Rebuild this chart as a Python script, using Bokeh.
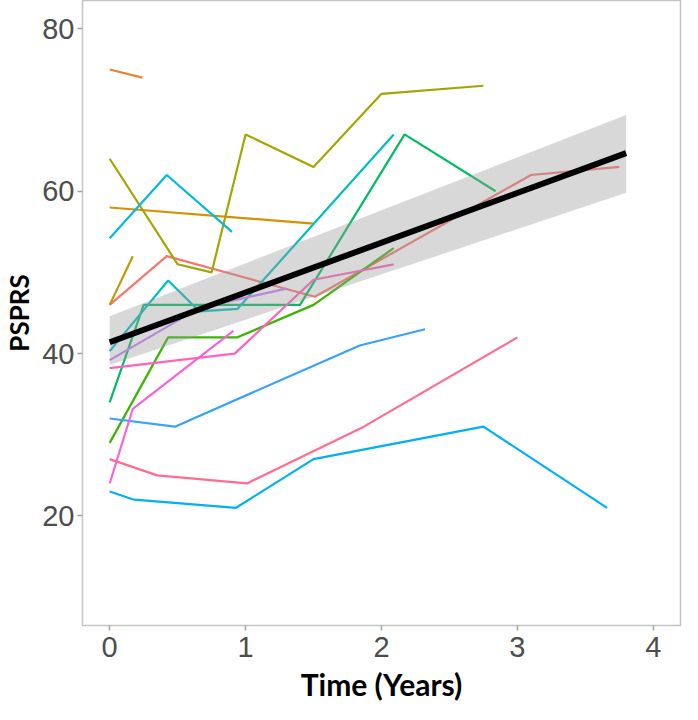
from bokeh.plotting import figure
from bokeh.models import Range1d, FixedTicker
from bokeh.embed import file_html
from bokeh.resources import INLINE

# ---- data ----
s01_x = [0, 0.42, 1.51, 3.1, 3.75];            s01_y = [46, 52, 47, 62, 63]
s02_x = [0, 0.24];                             s02_y = [75, 74]
s03_x = [0, 1.5];                              s03_y = [58, 56]
s04_x = [0, 0.17];                             s04_y = [46, 52]
s05_x = [0, 0.5, 0.75, 1.0, 1.5, 2.0, 2.75];   s05_y = [64, 51, 50, 67, 63, 72, 73]
s06_x = [0, 0.43, 0.94, 1.5, 2.09];            s06_y = [29, 42, 42, 46, 53]
s07_x = [0, 0.25, 1.4, 2.17, 2.84];            s07_y = [34, 46, 46, 67, 60]
s08_x = [0, 0.43, 0.66, 0.94, 2.09];           s08_y = [40.3, 49, 45.2, 45.5, 67]
s09_x = [0, 0.42, 0.9];                        s09_y = [54.2, 62, 55]
s10_x = [0, 0.18, 0.93, 1.5, 2.75, 3.66];      s10_y = [23, 22, 21, 27, 31, 21]
s11_x = [0, 0.48, 1.84, 2.32];                 s11_y = [32, 31, 41, 43]
s12_x = [0, 0.66, 1.3];                        s12_y = [39.2, 45.6, 48]
s13_x = [0, 0.17, 0.91];                       s13_y = [24, 33.2, 42.8]
s14_x = [0, 0.92, 1.5, 2.09];                  s14_y = [38.2, 40, 49.1, 51]
s15_x = [0, 0.35, 1.01, 1.87, 3.0];            s15_y = [27, 25, 24, 31, 42]

subjects = [
    (s01_x, s01_y, "#F8766D"), (s02_x, s02_y, "#EA8331"), (s03_x, s03_y, "#D89000"),
    (s04_x, s04_y, "#C09B00"), (s05_x, s05_y, "#A3A500"), (s06_x, s06_y, "#39B600"),
    (s07_x, s07_y, "#00BD62"), (s08_x, s08_y, "#00BFC4"), (s09_x, s09_y, "#00BAE0"),
    (s10_x, s10_y, "#00B0F6"), (s11_x, s11_y, "#35A2FF"), (s12_x, s12_y, "#C77CFF"),
    (s13_x, s13_y, "#FA62DB"), (s14_x, s14_y, "#FF62BC"), (s15_x, s15_y, "#FF6C91"),
]

fit_x = [0, 3.8]
fit_y = [41.4, 64.7]
band_lower = [38.6, 59.8]
band_upper = [44.6, 69.4]

x_ticks = [0, 1, 2, 3, 4]
y_ticks = [20, 40, 60, 80]

p = figure(width=682, height=704, x_range=Range1d(-0.2, 4.2), y_range=Range1d(6.5, 83.5),
           output_backend="svg", toolbar_location=None,
           min_border_left=10, min_border_right=2, min_border_top=0, min_border_bottom=10)

for xs, ys, c in subjects:
    p.line(xs, ys, line_color=c, line_width=2.2)

p.varea(x=fit_x, y1=band_lower, y2=band_upper, fill_color="#999999", fill_alpha=0.38)
p.line(fit_x, fit_y, line_color="black", line_width=6)

p.background_fill_color = "white"
p.border_fill_color = "white"
p.outline_line_color = "#C4C4C4"
p.outline_line_width = 1.5
p.xgrid.visible = False
p.ygrid.visible = False

for ax in (p.xaxis[0], p.yaxis[0]):
    ax.axis_line_color = None
    ax.major_tick_line_color = "#A0A0A0"
    ax.major_tick_line_width = 1.5
    ax.major_tick_out = 5
    ax.major_tick_in = 0
    ax.minor_tick_line_color = None
    ax.major_label_text_font = "Liberation Sans"
    ax.major_label_text_font_size = "29px"
    ax.major_label_text_color = "#4D4D4D"
    ax.axis_label_text_font = "Lato"
    ax.axis_label_text_font_style = "bold"
    ax.axis_label_text_color = "black"

p.xaxis[0].axis_label_text_font_size = "30px"
p.yaxis[0].axis_label_text_font_size = "26px"
p.xaxis[0].ticker = FixedTicker(ticks=x_ticks)
p.yaxis[0].ticker = FixedTicker(ticks=y_ticks)
p.xaxis[0].axis_label = "Time (Years)"
p.yaxis[0].axis_label = "PSPRS"
p.xaxis[0].major_label_standoff = 6
p.yaxis[0].major_label_standoff = 3
p.xaxis[0].axis_label_standoff = 6
p.yaxis[0].axis_label_standoff = 4

open("out.html", "w").write(file_html(p, INLINE))
